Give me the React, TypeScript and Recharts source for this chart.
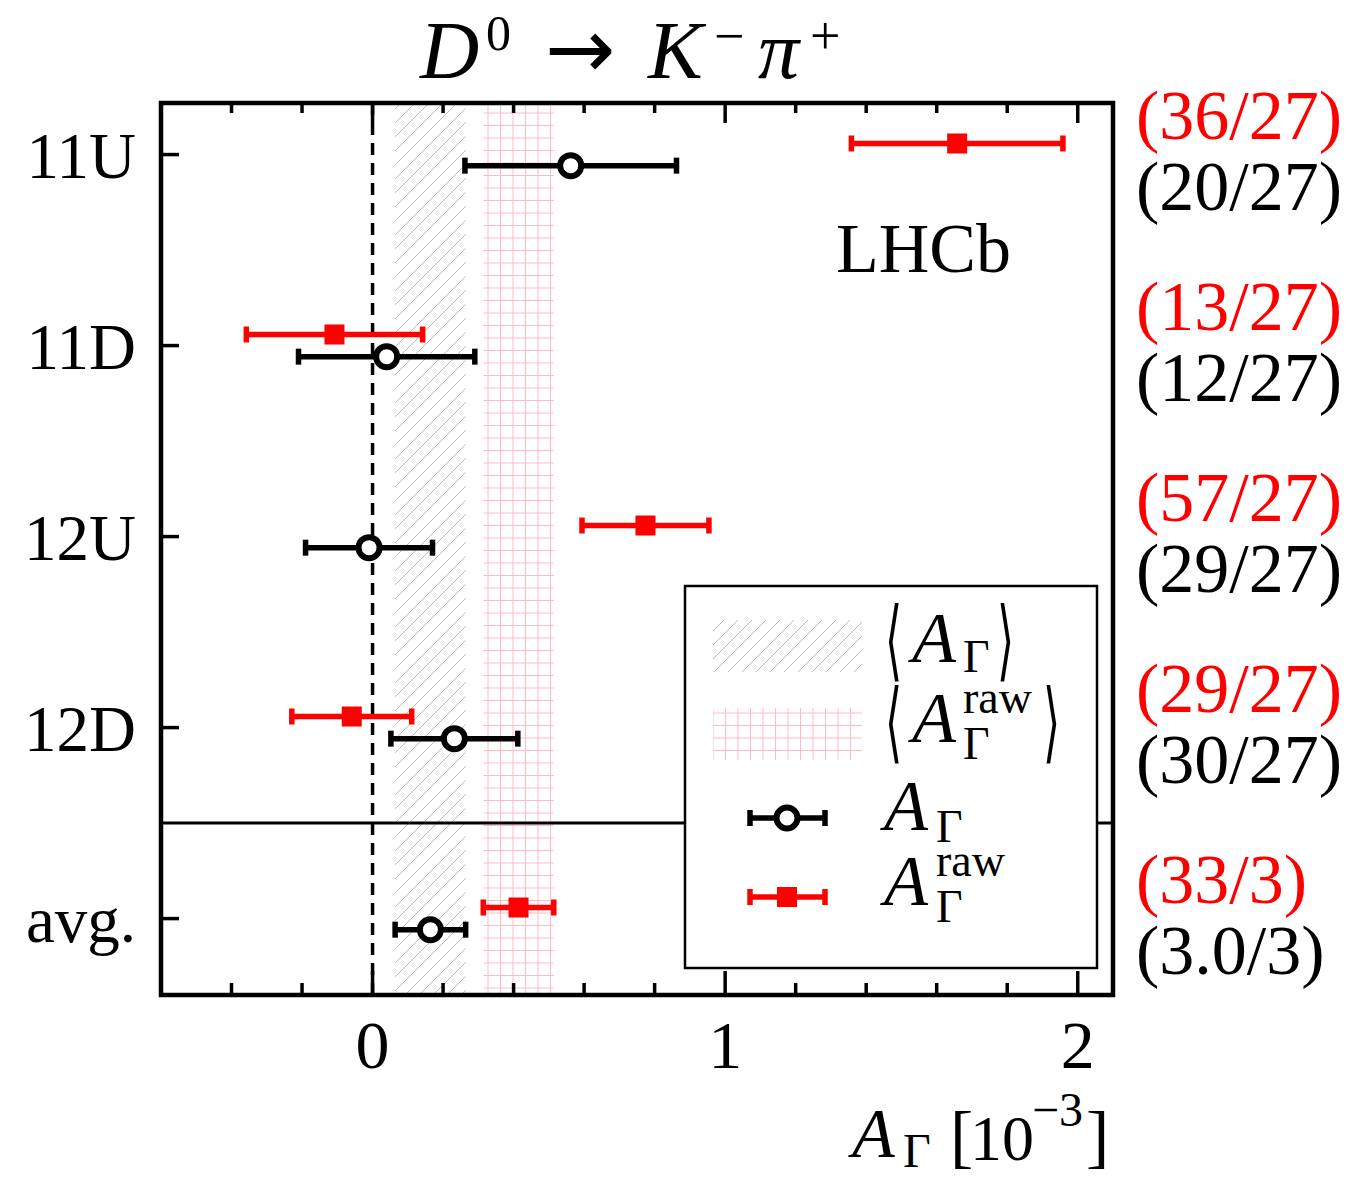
import {
  ScatterChart,
  Scatter,
  XAxis,
  YAxis,
  ErrorBar,
  ReferenceArea,
  ReferenceLine,
} from 'recharts';

// data-taking periods (top to bottom) and their row positions on the y axis
const periods = ['11U', '11D', '12U', '12D', 'avg.'];
const rowPos = [5, 4, 3, 2, 1];

// A_Gamma and raw A_Gamma, units of 1e-3
const aGamma = [0.562, 0.04, -0.01, 0.232, 0.164];
const aGammaErr = [0.3, 0.25, 0.18, 0.18, 0.1];
const aGammaRaw = [1.658, -0.108, 0.774, -0.059, 0.414];
const aGammaRawErr = [0.3, 0.25, 0.18, 0.17, 0.1];

// chi2/ndf of each period
const chi2 = ['(20/27)', '(12/27)', '(29/27)', '(30/27)', '(3.0/3)'];
const chi2Raw = ['(36/27)', '(13/27)', '(57/27)', '(29/27)', '(33/3)'];

const xTicks = [-0.4, -0.2, 0, 0.2, 0.4, 0.6, 0.8, 1, 1.2, 1.4, 1.6, 1.8, 2];
const xDomain: [number, number] = [-0.6, 2.1];
const yDomain: [number, number] = [0.6, 5.27];

const W = 1350;
const H = 1186;
const PLOT = { left: 161, right: 1113, top: 103, bottom: 995 };
const SERIF = '"Liberation Serif", "DejaVu Serif", serif';
const RED = '#ff0000';
const ROW_SHIFT = 0.058;

const last = periods.length - 1;

const points = periods.map((p, i) => ({
  period: p,
  x: aGamma[i],
  y: rowPos[i] - ROW_SHIFT,
  err: aGammaErr[i],
}));

const rawPoints = periods.map((p, i) => ({
  period: p,
  x: aGammaRaw[i],
  y: rowPos[i] + ROW_SHIFT,
  err: aGammaRawErr[i],
}));

const OpenCircle = (props: any) => (
  <circle cx={props.cx} cy={props.cy} r={10.5} fill="#fff" stroke="#000" strokeWidth={6} />
);

const FilledSquare = (props: any) => (
  <rect x={props.cx - 10} y={props.cy - 10} width={20} height={20} fill={RED} />
);

// inward ticks on bottom and top edges, labels only on integers
const XTick = (props: any) => {
  const { x, payload } = props;
  const major = Number.isInteger(payload.value);
  return (
    <g>
      <line x1={x} x2={x} y1={PLOT.bottom} y2={PLOT.bottom - (major ? 24 : 12)} stroke="#000" strokeWidth={3.5} />
      <line x1={x} x2={x} y1={PLOT.top} y2={PLOT.top + (major ? 20 : 10)} stroke="#000" strokeWidth={3.5} />
      {major && (
        <text x={x} y={1068} textAnchor="middle" fontFamily={SERIF} fontSize={68} fill="#000">
          {payload.value}
        </text>
      )}
    </g>
  );
};

// period name on the left, chi2 values on the right
const YTick = (props: any) => {
  const { y, payload } = props;
  const i = rowPos.indexOf(payload.value);
  if (i < 0) return null;
  return (
    <g fontFamily={SERIF}>
      <line x1={PLOT.left} x2={PLOT.left + 18} y1={y} y2={y} stroke="#000" strokeWidth={3.5} />
      <text x={136} y={y + 23} textAnchor="end" fontSize={65} fill="#000">
        {periods[i]}
      </text>
      <text x={1136} y={y - 16} fontSize={70} fill={RED}>
        {chi2Raw[i]}
      </text>
      <text x={1136} y={y + 55} fontSize={70} fill="#000">
        {chi2[i]}
      </text>
    </g>
  );
};

const Patterns = ({ suffix }: { suffix: string }) => (
  <defs>
    <pattern id={`hatch${suffix}`} patternUnits="userSpaceOnUse" width={14} height={14}>
      <path d="M0,14 L14,0 M-4,4 L4,-4 M10,18 L18,10" stroke="#b4b4b4" strokeWidth={0.9} />
    </pattern>
    <pattern id={`grid${suffix}`} patternUnits="userSpaceOnUse" width={12.5} height={12.5}>
      <path d="M0,0.5 H12.5 M0.5,0 V12.5" stroke="#ffbac3" strokeWidth={1} />
    </pattern>
  </defs>
);

const ErrMarker = ({ y, color, square }: { y: number; color: string; square?: boolean }) => (
  <g>
    <line x1={750} x2={825} y1={y} y2={y} stroke={color} strokeWidth={5.5} />
    <line x1={750} x2={750} y1={y - 8} y2={y + 8} stroke={color} strokeWidth={5.5} />
    <line x1={825} x2={825} y1={y - 8} y2={y + 8} stroke={color} strokeWidth={5.5} />
    {square ? (
      <rect x={777} y={y - 10} width={20} height={20} fill={color} />
    ) : (
      <circle cx={787} cy={y} r={10.5} fill="#fff" stroke={color} strokeWidth={6} />
    )}
  </g>
);

// tall narrow angle bracket for the legend labels
const Bracket = ({ x, y, ch }: { x: number; y: number; ch: string }) => (
  <text
    transform={`translate(${x},${y}) scale(0.5,1)`}
    fontFamily='"DejaVu Sans", sans-serif'
    fontSize={88}
    fill="#000"
  >
    {ch}
  </text>
);

const Overlay = () => (
  <svg
    width={W}
    height={H}
    style={{ position: 'absolute', left: 0, top: 0, pointerEvents: 'none' }}
    fontFamily={SERIF}
  >
    <Patterns suffix="Leg" />
    {/* title */}
    <text y={78} fontSize={82} fill="#000">
      <tspan x={420} fontStyle="italic">D</tspan>
      <tspan x={486} y={50} fontSize={50}>0</tspan>
      <tspan x={545} y={78} fontFamily='"DejaVu Sans", sans-serif' fontSize={84}>→</tspan>
      <tspan x={648} fontStyle="italic">K</tspan>
      <tspan x={714} y={54} fontSize={54}>−</tspan>
      <tspan x={758} y={78} fontStyle="italic">π</tspan>
      <tspan x={810} y={54} fontSize={54}>+</tspan>
    </text>

    <text x={836} y={272} fontSize={70} fill="#000">LHCb</text>

    {/* x-axis title */}
    <text y={1157} fontSize={70} fill="#000">
      <tspan x={852} fontStyle="italic">A</tspan>
      <tspan x={903} y={1167} fontSize={48}>Γ</tspan>
      <tspan x={950} y={1160}>[</tspan>
      <tspan x={970} y={1160} fontSize={64}>10</tspan>
      <tspan x={1032} y={1126} fontSize={48}>−3</tspan>
      <tspan x={1086} y={1160}>]</tspan>
    </text>

    {/* legend */}
    <rect x={685} y={586} width={412} height={382} fill="#fff" stroke="#000" strokeWidth={2.5} />
    <rect x={713} y={620} width={149} height={52} fill="url(#hatchLeg)" />
    <rect x={713} y={708} width={149} height={52} fill="url(#gridLeg)" />
    <ErrMarker y={818} color="#000" />
    <ErrMarker y={897} color={RED} square />

    <Bracket x={885} y={670} ch="⟨" />
    <text fontSize={72} fill="#000">
      <tspan x={912} y={662} fontStyle="italic">A</tspan>
      <tspan x={963} y={672} fontSize={46}>Γ</tspan>
    </text>
    <Bracket x={997} y={670} ch="⟩" />

    <Bracket x={885} y={752} ch="⟨" />
    <text fontSize={72} fill="#000">
      <tspan x={912} y={742} fontStyle="italic">A</tspan>
      <tspan x={963} y={759} fontSize={46}>Γ</tspan>
    </text>
    <text x={963} y={713} fontSize={46} fill="#000">raw</text>
    <Bracket x={1043} y={752} ch="⟩" />

    <text fontSize={72} fill="#000">
      <tspan x={884} y={830} fontStyle="italic">A</tspan>
      <tspan x={936} y={842} fontSize={46}>Γ</tspan>
    </text>
    <text fontSize={72} fill="#000">
      <tspan x={884} y={905} fontStyle="italic">A</tspan>
      <tspan x={936} y={922} fontSize={46}>Γ</tspan>
    </text>
    <text x={936} y={876} fontSize={46} fill="#000">raw</text>
  </svg>
);

export default function App() {
  return (
    <div style={{ position: 'absolute', left: 0, top: 0, width: W, height: H, background: '#fff' }}>
      <style>{'.recharts-errorBar line { stroke-width: 5.5px; }'}</style>
      <ScatterChart width={W} height={H} margin={{ top: PLOT.top, right: W - PLOT.right, bottom: 0, left: 0 }}>
        <Patterns suffix="" />
        <XAxis
          type="number"
          dataKey="x"
          domain={xDomain}
          allowDataOverflow
          ticks={xTicks}
          interval={0}
          height={H - PLOT.bottom}
          axisLine={false}
          tickLine={false}
          tick={<XTick />}
        />
        <YAxis
          type="number"
          dataKey="y"
          domain={yDomain}
          allowDataOverflow
          ticks={rowPos}
          interval={0}
          width={PLOT.left}
          axisLine={false}
          tickLine={false}
          tick={<YTick />}
        />
        <ReferenceArea
          x1={aGamma[last] - aGammaErr[last]}
          x2={aGamma[last] + aGammaErr[last]}
          y1={yDomain[0]}
          y2={yDomain[1]}
          fill="url(#hatch)"
          fillOpacity={1}
          stroke="none"
        />
        <ReferenceArea
          x1={aGammaRaw[last] - aGammaRawErr[last]}
          x2={aGammaRaw[last] + aGammaRawErr[last]}
          y1={yDomain[0]}
          y2={yDomain[1]}
          fill="url(#grid)"
          fillOpacity={1}
          stroke="none"
        />
        <ReferenceLine x={0} stroke="#000" strokeWidth={3.5} strokeDasharray="12 8" />
        <ReferenceLine y={1.5} stroke="#000" strokeWidth={3} />
        <ReferenceArea
          x1={xDomain[0]}
          x2={xDomain[1]}
          y1={yDomain[0]}
          y2={yDomain[1]}
          fill="none"
          stroke="#000"
          strokeWidth={4.5}
        />
        <Scatter data={points} shape={<OpenCircle />} isAnimationActive={false}>
          <ErrorBar dataKey="err" direction="x" width={8} strokeWidth={5.5} stroke="#000" />
        </Scatter>
        <Scatter data={rawPoints} shape={<FilledSquare />} isAnimationActive={false}>
          <ErrorBar dataKey="err" direction="x" width={8} strokeWidth={5.5} stroke={RED} />
        </Scatter>
      </ScatterChart>
      <Overlay />
    </div>
  );
}
